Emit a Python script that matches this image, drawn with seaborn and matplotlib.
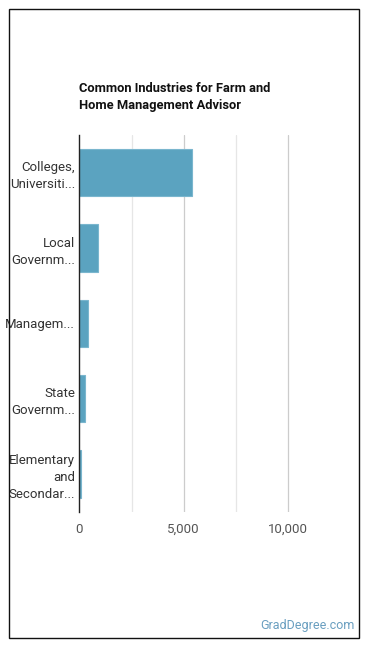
import matplotlib
matplotlib.use("Agg")
import matplotlib.pyplot as plt
import seaborn as sns
import pandas as pd
from matplotlib.patches import Rectangle

categories = ["Colleges,\nUniversiti...", "Local\nGovernm...", "Managem...", "State\nGovernm...", "Elementary\nand\nSecondar..."]
values = [5400, 910, 430, 290, 100]
xticks = [0, 5000, 10000]
xtick_labels = ["0", "5,000", "10,000"]
title = "Common Industries for Farm and\nHome Management Advisor"

sns.set_theme(style="white")
plt.rcParams['font.family'] = ['Roboto', 'DejaVu Sans']

fig = plt.figure(figsize=(3.7, 6.48), dpi=100)
ax = fig.add_axes([79.3/370, (648-511.7)/648, (340.5-79.3)/370, (511.7-135)/648])

df = pd.DataFrame({"cat": categories, "val": values})
sns.barplot(data=df, x="val", y="cat", ax=ax, color="#5ba3c0", saturation=1,
            width=0.63, edgecolor="#7ab6ce", linewidth=0.8)

ax.set_xlim(0, 12500)
for g, c in [(2500, "#e6e6e6"), (5000, "#cccccc"), (7500, "#e6e6e6"), (10000, "#cccccc")]:
    ax.axvline(g, color=c, lw=0.9, zorder=0)
ax.set_xticks(xticks)
ax.set_xticklabels(xtick_labels, color="#555555", fontsize=9.5)
ax.tick_params(axis="x", length=0, pad=8)
ax.tick_params(axis="y", length=0, pad=3, labelsize=9.5, labelcolor="#333333")
for lbl in ax.get_yticklabels():
    lbl.set_linespacing(1.4)
ax.set_xlabel("")
ax.set_ylabel("")
for s in ["top", "right", "bottom"]:
    ax.spines[s].set_visible(False)
ax.spines["left"].set_color("#222222")
ax.spines["left"].set_linewidth(1.0)

fig.text(79/370, 1 - 82/648, title, fontsize=9.3, fontweight="bold", color="#111111",
         ha="left", va="top", linespacing=1.4)
fig.text(355/370, 1 - 626/648, "GradDegree.com", fontsize=9, color="#6a9fc0",
         ha="right", va="center")

fig.patches.append(Rectangle((8.5/370, 1 - 637.5/648), (359-8.5)/370, (637.5-8.5)/648,
                             transform=fig.transFigure, fill=False, edgecolor="#111111", lw=1.0))

fig.savefig("out.png", dpi=100)
